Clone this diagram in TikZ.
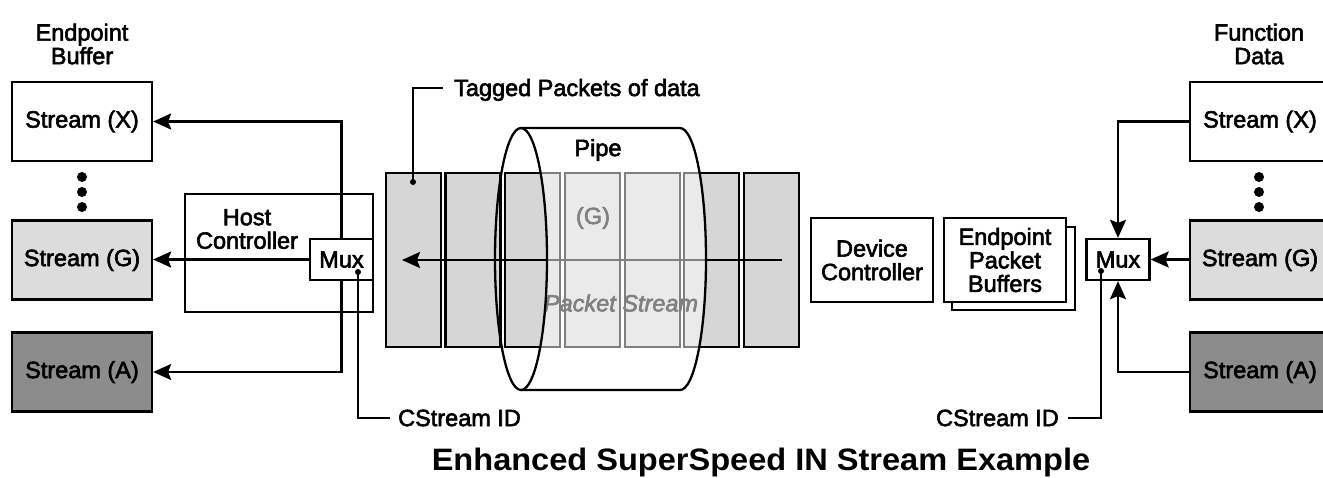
\documentclass[tikz,border=0pt]{standalone}
\usepackage{fontspec}
\setmainfont{Liberation Sans}
\newfontfamily\labfont{Liberation Sans}[FakeBold=2.5]
\usetikzlibrary{arrows.meta}
\definecolor{lgray}{HTML}{DCDCDC}
\definecolor{dgray}{HTML}{8C8C8C}
\definecolor{pgray}{HTML}{D6D6D6}
\begin{document}
\begin{tikzpicture}[x=1pt,y=-1pt,line width=2.3pt,
  every node/.style={font=\labfont\fontsize{23.5}{23.5}\selectfont,inner sep=0pt},
  box/.style={draw,minimum width=140pt,minimum height=79pt},
  pkt/.style={draw,fill=pgray,minimum width=55pt,minimum height=174pt},
  muxbox/.style={draw,fill=white,minimum width=63pt,minimum height=41pt},
  arr/.style={-{Stealth[length=18pt,width=16pt,inset=3pt]}},
  lbl/.style={align=center}]
\clip (0,0) rectangle (1323,477);
\fill[white] (0,0) rectangle (1323,477);

% ---------- left side ----------
\node[lbl] (eb) at (82,44) {Endpoint\\Buffer};
\node[box] (sxl) at (82,121.5) {Stream (X)};
\node[box,fill=lgray] (sgl) at (82,260) {Stream (G)};
\node[box,fill=dgray] (sal) at (82,372) {Stream (A)};
\foreach \yy in {177,192,207} \fill (82,\yy) circle (5pt);
\node[draw,minimum width=188pt,minimum height=118pt] (host) at (279,253) {};
\node[lbl] (hostlbl) at (247,229) {Host\\Controller};
\node[muxbox] (muxl) at (341.5,259.5) {Mux};
\draw[arr] (muxl.north) |- (sxl.east);
\draw[arr] (muxl.west) -- (muxl.west -| sgl.east);
\draw[arr] (muxl.south) |- (sal.east);
\coordinate (cidl) at (358,272);
\fill (cidl) circle (3pt);
\node[anchor=west] (cidtl) at (397,418) {CStream ID};
\draw (cidl) |- ([xshift=-7pt]cidtl.west);

% ---------- packet stream and pipe ----------
\node[pkt] (p1) at (413.5,260) {};
\node[pkt] (p2) at (473,260) {};
\node[pkt] (p3) at (532.5,260) {};
\node[pkt] (p4) at (592.5,260) {};
\node[pkt] (p5) at (652.5,260) {};
\node[pkt] (p6) at (711.5,260) {};
\node[pkt] (p7) at (771.5,260) {};
\coordinate (sstart) at (782,260);
\coordinate (send) at (402,260);
\draw[arr] (sstart) -- (send);
\node (gtag) at (593,218) {(G)};
\node[font=\labfont\fontsize{23.5}{23.5}\selectfont\itshape] (pstream) at (621,303) {Packet Stream};
\fill[white,opacity=0.5] (521,128) -- (680,128)
  arc[start angle=90,end angle=-90,x radius=26pt,y radius=131pt]
  -- (521,390)
  arc[start angle=-90,end angle=90,x radius=26pt,y radius=131pt] -- cycle;
\draw (521,128) -- (680,128)
  arc[start angle=90,end angle=-90,x radius=26pt,y radius=131pt] -- (521,390);
\draw (521,259) ellipse [x radius=26pt,y radius=131pt];
\node (pipe) at (598,150) {Pipe};
\coordinate (tagdot) at (413,182);
\fill (tagdot) circle (3pt);
\node[anchor=base west] (tag) at (453,96) {Tagged Packets of data};
\draw (tagdot) |- (443,88);

% ---------- right side ----------
\node[draw,minimum width=122pt,minimum height=84pt,lbl] (dc) at (872,260) {Device\\Controller};
\node[draw,fill=white,minimum width=123pt,minimum height=83pt] (epbb) at (1013.5,268.5) {};
\node[draw,fill=white,minimum width=122pt,minimum height=84pt,lbl] (epb) at (1005,260) {Endpoint\\Packet\\Buffers};
\node[lbl] (fd) at (1259,44) {Function\\Data};
\node[box] (sxr) at (1260,121.5) {Stream (X)};
\node[box,fill=lgray] (sgr) at (1260,260) {Stream (G)};
\node[box,fill=dgray] (sar) at (1260,372) {Stream (A)};
\foreach \yy in {177,192,207} \fill (1259,\yy) circle (5pt);
\node[muxbox] (muxr) at (1118,259.5) {Mux};
\draw[arr] (sxr.west) -| (muxr.north);
\draw[arr] (muxr.east -| sgr.west) -- (muxr.east);
\draw[arr] (sar.west) -| (muxr.south);
\coordinate (cidr) at (1101,271);
\fill (cidr) circle (3pt);
\node[anchor=east] (cidtr) at (1060,418) {CStream ID};
\draw (cidr) |- ([xshift=8pt]cidtr.east);

% ---------- title ----------
\node[font=\fontsize{31}{31}\selectfont\bfseries] (title) at (761,462) {\scalebox{1.05}[1]{Enhanced SuperSpeed IN Stream Example}};
\end{tikzpicture}
\end{document}
